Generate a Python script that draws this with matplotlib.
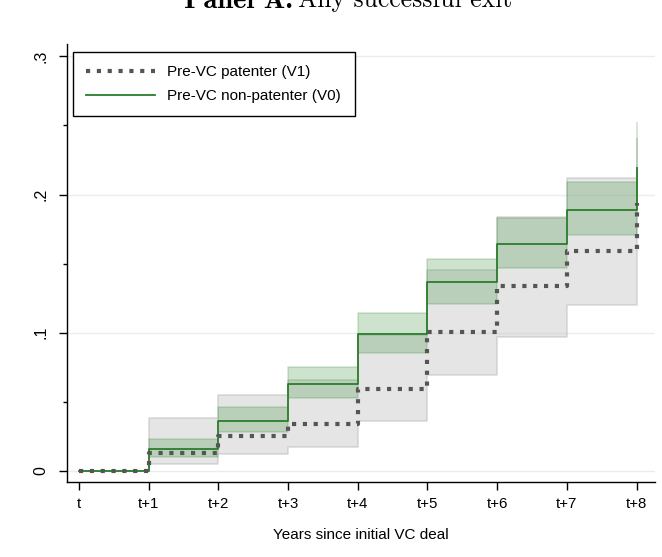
#
# cumulative probability of a successful exit, patenters vs non-patenters
#
import numpy as np
import matplotlib
matplotlib.use('Agg')
import matplotlib.pyplot as plt

plt.rcParams['font.family'] = ['Liberation Sans', 'DejaVu Sans']

#
# data: step values at t, t+1, ..., t+8
#
years = [0, 1, 2, 3, 4, 5, 6, 7, 8]
year_labels = ['t', 't+1', 't+2', 't+3', 't+4', 't+5', 't+6', 't+7', 't+8']

# pre-VC patenter (V1)
v1 = [0.0, 0.013, 0.025, 0.034, 0.059, 0.1005, 0.134, 0.159, 0.194]
v1_lo = [0.0, 0.005, 0.012, 0.017, 0.036, 0.069, 0.097, 0.120, 0.150]
v1_hi = [0.0, 0.038, 0.055, 0.066, 0.098, 0.145, 0.184, 0.212, 0.240]

# pre-VC non-patenter (V0)
v0 = [0.0, 0.0155, 0.036, 0.063, 0.099, 0.1365, 0.164, 0.189, 0.219]
v0_lo = [0.0, 0.010, 0.028, 0.0525, 0.0855, 0.121, 0.147, 0.171, 0.190]
v0_hi = [0.0, 0.023, 0.046, 0.075, 0.114, 0.153, 0.183, 0.209, 0.252]

yticks = [0, 0.1, 0.2, 0.3]
ytick_labels = ['0', '.1', '.2', '.3']


def main():

    fig = plt.figure(figsize=(6.62, 5.57), dpi=100)
    ax = fig.add_axes([0.101, 0.1346, 0.888, 0.7864])

    green = '#2b7d2b'

    #
    # confidence bands first, then the step lines
    #
    ax.fill_between(years, v1_lo, v1_hi, step='post',
                    facecolor=(0.75, 0.75, 0.75, 0.40),
                    edgecolor=(0.70, 0.70, 0.70, 0.45), lw=1.2, zorder=2)
    ax.fill_between(years, v0_lo, v0_hi, step='post',
                    facecolor=(0.18, 0.55, 0.18, 0.24),
                    edgecolor=(0.18, 0.55, 0.18, 0.20), lw=1.2, zorder=3)

    ax.step(years, v0, where='post', color=green, lw=1.3, zorder=4,
            label='Pre-VC non-patenter (V0)')
    ax.step(years, v1, where='post', color='#555555', lw=3.0,
            linestyle=(0, (1, 1.6)), zorder=5,
            label='Pre-VC patenter (V1)')

    #
    # axes
    #
    ax.set_xlim(-0.172, 8.26)
    ax.set_ylim(-0.0082, 0.309)

    ax.set_xticks(years)
    ax.set_xticklabels(year_labels, fontsize=10.8)
    ax.set_yticks(yticks)
    ax.set_yticklabels(ytick_labels, fontsize=11.5, rotation=90, va='center')
    ax.set_yticks([0.05, 0.15, 0.25], minor=True)
    ax.tick_params(axis='both', which='major', length=6, width=1, color='black')
    ax.tick_params(axis='y', which='minor', length=3, width=1)
    ax.tick_params(axis='x', pad=5)
    ax.tick_params(axis='y', pad=7)

    ax.spines['top'].set_visible(False)
    ax.spines['right'].set_visible(False)
    ax.spines['left'].set_linewidth(1)
    ax.spines['bottom'].set_linewidth(1)

    ax.yaxis.grid(True, color='#e6eef1', lw=1)
    ax.set_axisbelow(True)

    ax.set_xlabel('Years since initial VC deal', fontsize=11, labelpad=12)

    # legend, patenters listed first
    h, l = ax.get_legend_handles_labels()
    leg = ax.legend(h[::-1], l[::-1], loc='upper left', mode='expand',
                    bbox_to_anchor=(0.0102, 0.841, 0.4796, 0.141),
                    borderaxespad=0,
                    fontsize=11, handlelength=4.5, handletextpad=0.8,
                    labelspacing=0.66, borderpad=0.85, fancybox=False,
                    framealpha=1, edgecolor='black')
    leg.get_frame().set_linewidth(1)

    #
    # panel title
    #
    fig.text(293 / 662, 1 - 7.5 / 557, 'Panel A:', fontfamily='cmb10',
             fontsize=20.5, va='baseline', ha='right')
    fig.text(298 / 662, 1 - 7.5 / 557, 'Any successful exit', fontfamily='cmr10',
             fontsize=18.5, va='baseline', ha='left')

    plt.savefig('out.png', dpi=100)


main()
